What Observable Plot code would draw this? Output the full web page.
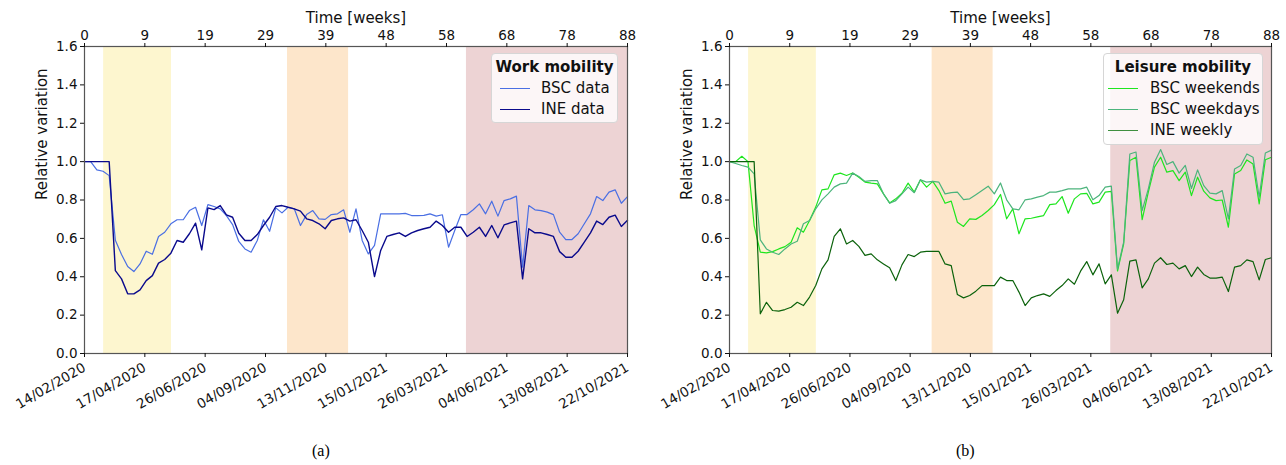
<!DOCTYPE html>
<html>
<head>
<meta charset="utf-8">
<script src="https://cdn.jsdelivr.net/npm/d3@7"></script>
<script src="https://cdn.jsdelivr.net/npm/@observablehq/plot@0.6"></script>
<style>
  body { margin: 0; background: #fff; }
  #wrap { position: relative; width: 1286px; height: 465px; font-family: "DejaVu Sans", sans-serif; }
  .panel { position: absolute; top: 0; width: 643px; height: 465px; }
  .caption { position: absolute; top: 442px; width: 100%; font-family: "Liberation Serif", serif; font-size: 16px; }
  .legend { position: absolute; background: rgba(255,255,255,0.8); border: 1px solid #d6d6d6; border-radius: 4px; font-size: 15px; color: #111; box-sizing: border-box; }
  .legend .title { font-weight: bold; text-align: center; margin-top: 3px; height: 21px; line-height: 21px; }
  .legend .row { height: 21px; line-height: 21px; display: flex; align-items: center; }
  .legend .sw { width: 30px; height: 0; }
</style>
</head>
<body>
<div id="wrap"></div>
<script>
// ---- data ----
const weeks = d3.range(0, 89);
const weekTickLabels = ["0", "9", "19", "29", "39", "48", "58", "68", "78", "88"];
const dateTickLabels = ["14/02/2020", "17/04/2020", "26/06/2020", "04/09/2020", "13/11/2020",
  "15/01/2021", "26/03/2021", "04/06/2021", "13/08/2021", "22/10/2021"];
const yTicks = [0, 0.2, 0.4, 0.6, 0.8, 1.0, 1.2, 1.4, 1.6];

// shaded periods (weeks)
const shadeStart = [3.1, 32.9, 61.9];
const shadeEnd = [14.1, 42.8, 88];
const shadeColor = ["#fdf6cf", "#fde6cb", "#edd3d4"];

// Work mobility
const workBSC = [1.0, 1.0, 0.957, 0.95, 0.927, 0.59, 0.516, 0.453, 0.427, 0.467,
  0.533, 0.517, 0.61, 0.632, 0.676, 0.697, 0.697, 0.745, 0.762, 0.667,
  0.776, 0.766, 0.754, 0.719, 0.672, 0.584, 0.545, 0.528, 0.589, 0.697,
  0.637, 0.759, 0.733, 0.762, 0.754, 0.667, 0.724, 0.745, 0.702, 0.699,
  0.724, 0.728, 0.749, 0.632, 0.754, 0.589, 0.519, 0.563, 0.728, 0.728,
  0.728, 0.728, 0.73, 0.719, 0.719, 0.72, 0.728, 0.716, 0.723, 0.554,
  0.641, 0.724, 0.724, 0.749, 0.78, 0.728, 0.794, 0.716, 0.797, 0.806,
  0.82, 0.45, 0.771, 0.749, 0.745, 0.737, 0.724, 0.632, 0.594, 0.594,
  0.624, 0.676, 0.728, 0.818, 0.797, 0.841, 0.853, 0.783, 0.818];
const workINE = [1.0, 1.0, 1.0, 1.0, 1.0, 0.432, 0.389, 0.311, 0.311, 0.332,
  0.38, 0.406, 0.471, 0.49, 0.523, 0.589, 0.58, 0.624, 0.679, 0.54,
  0.759, 0.75, 0.771, 0.723, 0.71, 0.627, 0.589, 0.589, 0.62, 0.667,
  0.71, 0.766, 0.771, 0.762, 0.754, 0.742, 0.702, 0.693, 0.676, 0.65,
  0.693, 0.702, 0.707, 0.69, 0.697, 0.641, 0.58, 0.401, 0.537, 0.61,
  0.62, 0.629, 0.61, 0.629, 0.641, 0.65, 0.658, 0.69, 0.667, 0.632,
  0.658, 0.658, 0.61, 0.632, 0.658, 0.61, 0.667, 0.603, 0.67, 0.681,
  0.69, 0.389, 0.65, 0.629, 0.629, 0.62, 0.61, 0.531, 0.502, 0.502,
  0.533, 0.58, 0.629, 0.69, 0.672, 0.71, 0.721, 0.662, 0.694];

// Leisure mobility
const leisureWeekends = [1.0, 1.0, 1.028, 1.0, 0.667, 0.528, 0.524, 0.531, 0.545, 0.557,
  0.58, 0.655, 0.632, 0.693, 0.763, 0.853, 0.858, 0.931, 0.94, 0.928,
  0.941, 0.919, 0.893, 0.888, 0.884, 0.832, 0.785, 0.806, 0.835, 0.888,
  0.841, 0.905, 0.867, 0.897, 0.849, 0.783, 0.794, 0.684, 0.662, 0.702,
  0.699, 0.719, 0.745, 0.776, 0.829, 0.702, 0.754, 0.624, 0.702, 0.705,
  0.712, 0.719, 0.776, 0.78, 0.818, 0.731, 0.806, 0.832, 0.835, 0.78,
  0.789, 0.841, 0.845, 0.43, 0.572, 1.006, 1.023, 0.698, 0.841, 0.971,
  1.023, 0.945, 0.953, 0.901, 0.945, 0.823, 0.919, 0.846, 0.811, 0.797,
  0.80, 0.658, 0.936, 0.954, 1.009, 0.988, 0.78, 1.01, 1.023];
const leisureWeekdays = [1.0, 0.99, 0.98, 0.971, 0.936, 0.592, 0.545, 0.528, 0.516, 0.545,
  0.571, 0.585, 0.676, 0.693, 0.754, 0.801, 0.832, 0.867, 0.884, 0.888,
  0.94, 0.922, 0.897, 0.901, 0.901, 0.832, 0.783, 0.797, 0.832, 0.867,
  0.838, 0.905, 0.893, 0.897, 0.893, 0.832, 0.838, 0.841, 0.802, 0.806,
  0.827, 0.849, 0.872, 0.832, 0.889, 0.801, 0.754, 0.749, 0.801, 0.806,
  0.815, 0.823, 0.841, 0.841, 0.849, 0.858, 0.858, 0.858, 0.867, 0.801,
  0.823, 0.867, 0.872, 0.44, 0.58, 1.04, 1.05, 0.745, 0.858, 0.997,
  1.063, 0.985, 1.0, 0.94, 0.98, 0.86, 0.957, 0.875, 0.836, 0.832,
  0.849, 0.702, 0.962, 0.98, 1.04, 1.023, 0.815, 1.045, 1.06];
const leisureINE = [1.0, 1.0, 1.0, 1.0, 1.0, 0.207, 0.267, 0.224, 0.221, 0.229,
  0.241, 0.267, 0.25, 0.294, 0.354, 0.441, 0.488, 0.61, 0.65, 0.571,
  0.589, 0.558, 0.511, 0.519, 0.488, 0.467, 0.447, 0.38, 0.462, 0.516,
  0.505, 0.528, 0.532, 0.532, 0.532, 0.467, 0.458, 0.307, 0.29, 0.302,
  0.325, 0.354, 0.354, 0.354, 0.398, 0.38, 0.38, 0.32, 0.25, 0.29,
  0.302, 0.311, 0.298, 0.328, 0.354, 0.389, 0.361, 0.429, 0.479, 0.41,
  0.467, 0.363, 0.41, 0.21, 0.28, 0.481, 0.488, 0.342, 0.389, 0.471,
  0.499, 0.464, 0.471, 0.441, 0.458, 0.401, 0.45, 0.412, 0.393, 0.393,
  0.398, 0.323, 0.45, 0.458, 0.488, 0.479, 0.384, 0.49, 0.499];

// ---- build ----
const xMax = 88;
const tickPos = weekTickLabels.map((_, i) => i * xMax / (weekTickLabels.length - 1));
const shades = shadeStart.map((s, i) => ({start: s, end: shadeEnd[i], color: shadeColor[i]}));
const idx = d => tickPos.findIndex(t => Math.abs(t - d) < 1e-6);

function panel(series, marginLeft, marginRight) {
  return Plot.plot({
    width: 643, height: 430,
    marginLeft, marginRight, marginTop: 46, marginBottom: 77,
    x: {domain: [0, xMax]},
    y: {domain: [0, 1.6]},
    style: {fontFamily: "DejaVu Sans", fontSize: "13.5px", color: "#111", background: "transparent", overflow: "visible"},
    marks: [
      Plot.rect(shades, {x1: "start", x2: "end", fill: "color"}),
      ...series.map(s => Plot.line(weeks, {x: d => d, y: (d, i) => s.values[i], stroke: s.color, strokeWidth: s.width})),
      Plot.frame({stroke: "#555", strokeWidth: 1.2}),
      Plot.axisY({ticks: yTicks, tickFormat: d => d.toFixed(1), tickSize: 4, tickPadding: 3, label: null}),
      Plot.axisX({anchor: "top", ticks: tickPos, tickFormat: d => weekTickLabels[idx(d)], tickSize: 4, tickPadding: 3, label: null}),
      Plot.axisX({anchor: "bottom", ticks: tickPos, tickFormat: d => dateTickLabels[idx(d)], tickSize: 4, tickPadding: 9,
        tickRotate: -30, label: null}),
      Plot.text(["Time [weeks]"], {frameAnchor: "top", dy: -34, fontSize: 15, fill: "#111"}),
      Plot.text(["Relative variation"], {frameAnchor: "left", dx: -42, rotate: -90, fontSize: 15, fill: "#111"})
    ]
  });
}

const wrap = document.getElementById("wrap");

function addPanel(left, chart, caption, spec) {
  const div = document.createElement("div");
  div.className = "panel";
  div.style.left = left + "px";
  div.appendChild(chart);
  const cap = document.createElement("div");
  cap.className = "caption";
  cap.style.left = "0px";
  cap.style.paddingLeft = spec.capX + "px";
  cap.textContent = caption;
  div.appendChild(cap);
  const lg = document.createElement("div");
  lg.className = "legend";
  lg.style.left = spec.x + "px";
  lg.style.top = spec.y + "px";
  lg.style.width = spec.w + "px";
  lg.style.height = spec.h + "px";
  const t = document.createElement("div");
  t.className = "title";
  t.textContent = spec.title;
  lg.appendChild(t);
  spec.items.forEach(it => {
    const r = document.createElement("div");
    r.className = "row";
    r.style.paddingLeft = spec.padL + "px";
    const sw = document.createElement("div");
    sw.className = "sw";
    sw.style.borderTop = `${it.width}px solid ${it.color}`;
    sw.style.marginRight = spec.gap + "px";
    r.appendChild(sw);
    const tx = document.createElement("span");
    tx.textContent = it.label;
    r.appendChild(tx);
    lg.appendChild(r);
  });
  div.appendChild(lg);
  wrap.appendChild(div);
}

const workSeries = [
  {label: "BSC data", values: workBSC, color: "#4a6fe3", width: 1.2},
  {label: "INE data", values: workINE, color: "#0a0a8c", width: 1.4}
];
const leisureSeries = [
  {label: "BSC weekends", values: leisureWeekends, color: "#1ee61e", width: 1.2},
  {label: "BSC weekdays", values: leisureWeekdays, color: "#4cb47c", width: 1.2},
  {label: "INE weekly", values: leisureINE, color: "#0b620b", width: 1.2}
];

addPanel(0, panel(workSeries, 84, 16), "(a)",
  {x: 491, y: 53, w: 127, h: 70, title: "Work mobility", capX: 312, padL: 8, gap: 11,
   items: workSeries.map(s => ({label: s.label, color: s.color, width: s.width}))});
addPanel(643, panel(leisureSeries, 86, 15), "(b)",
  {x: 460, y: 53, w: 160, h: 92, title: "Leisure mobility", capX: 313, padL: 4, gap: 12,
   items: [{label: "BSC weekends", color: "#1ee61e", width: 1.2},
           {label: "BSC weekdays", color: "#4cb47c", width: 1.2},
           {label: "INE weekly", color: "#3f8f3f", width: 1.4}]});
</script>
</body>
</html>
